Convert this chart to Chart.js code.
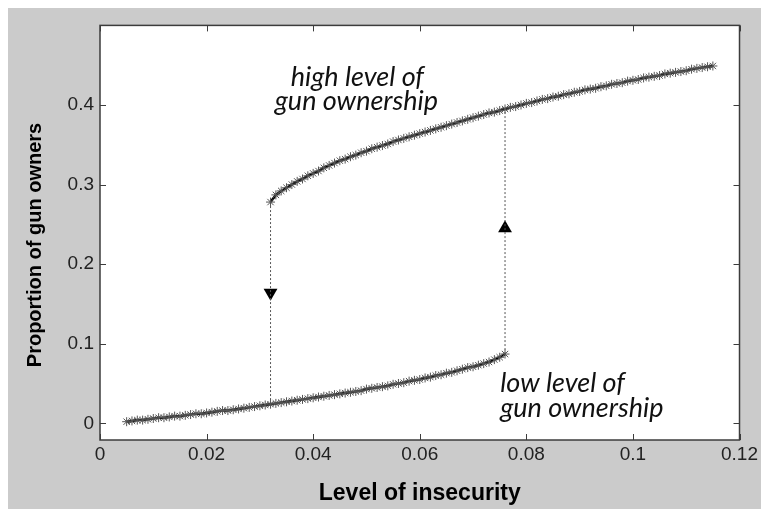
<!DOCTYPE html>
<html>
<head>
<meta charset="utf-8">
<script src="https://cdn.jsdelivr.net/npm/chart.js@4.4.1/dist/chart.umd.min.js"></script>
<style>
  html, body { margin: 0; padding: 0; background: #fff; }
  #wrap { position: absolute; left: 8px; top: 8px; width: 753px; height: 501px; background: #cbcbcb; }
</style>
</head>
<body>
<div id="wrap"><canvas id="chart" width="753" height="501"></canvas></div>
<script>
// lower branch (low level of gun ownership)
const lowX = [0.005,0.006,0.007,0.008,0.009,0.010,0.011,0.012,0.013,0.014,0.015,0.016,0.017,0.018,0.019,0.020,
  0.021,0.022,0.023,0.024,0.025,0.026,0.027,0.028,0.029,0.030,0.031,0.032,0.033,0.034,0.035,0.036,0.037,0.038,
  0.039,0.040,0.041,0.042,0.043,0.044,0.045,0.046,0.047,0.048,0.049,0.050,0.051,0.052,0.053,0.054,0.055,0.056,
  0.057,0.058,0.059,0.060,0.061,0.062,0.063,0.064,0.065,0.066,0.067,0.068,0.069,0.070,0.071,0.072,0.073,0.074,
  0.075,0.076];
const lowY = [0.002,0.003,0.004,0.004,0.005,0.006,0.007,0.007,0.008,0.009,0.009,0.010,0.011,0.012,0.012,0.013,
  0.014,0.015,0.016,0.016,0.017,0.018,0.019,0.020,0.021,0.022,0.023,0.024,0.025,0.026,0.027,0.028,0.029,0.030,
  0.031,0.032,0.033,0.034,0.035,0.036,0.037,0.038,0.039,0.040,0.041,0.043,0.044,0.045,0.046,0.047,0.049,0.050,
  0.051,0.053,0.054,0.055,0.057,0.058,0.060,0.061,0.063,0.064,0.066,0.068,0.070,0.071,0.073,0.075,0.077,0.080,
  0.083,0.087];

// upper branch (high level of gun ownership)
const highX = [0.032,0.033,0.034,0.035,0.036,0.037,0.038,0.039,0.040,0.041,0.042,0.043,0.044,0.045,0.046,0.047,
  0.048,0.049,0.050,0.051,0.052,0.053,0.054,0.055,0.056,0.057,0.058,0.059,0.060,0.061,0.062,0.063,0.064,0.065,
  0.066,0.067,0.068,0.069,0.070,0.071,0.072,0.073,0.074,0.075,0.076,0.077,0.078,0.079,0.080,0.081,0.082,0.083,
  0.084,0.085,0.086,0.087,0.088,0.089,0.090,0.091,0.092,0.093,0.094,0.095,0.096,0.097,0.098,0.099,0.100,0.101,
  0.102,0.103,0.104,0.105,0.106,0.107,0.108,0.109,0.110,0.111,0.112,0.113,0.114,0.115];
const highY = [0.278,0.287,0.292,0.296,0.300,0.304,0.307,0.311,0.314,0.317,0.321,0.324,0.327,0.330,0.332,0.335,
  0.337,0.340,0.342,0.345,0.347,0.349,0.351,0.354,0.356,0.358,0.360,0.362,0.364,0.366,0.368,0.370,0.372,0.374,
  0.376,0.378,0.380,0.382,0.384,0.386,0.388,0.390,0.391,0.393,0.395,0.397,0.398,0.400,0.402,0.403,0.405,0.407,
  0.408,0.410,0.411,0.413,0.414,0.416,0.417,0.419,0.420,0.421,0.423,0.424,0.426,0.427,0.428,0.430,0.431,0.432,
  0.434,0.435,0.436,0.437,0.439,0.440,0.441,0.442,0.443,0.445,0.446,0.447,0.448,0.449];

// jumps between branches
const jumpDownX = [0.032, 0.032];
const jumpDownY = [0.278, 0.024];
const jumpUpX = [0.076, 0.076];
const jumpUpY = [0.087, 0.395];
const arrowX = [0.032, 0.076];
const arrowY = [0.164, 0.245];
const arrowRot = [180, 0];

const xTicks = [0, 0.02, 0.04, 0.06, 0.08, 0.1, 0.12];
const xTickLabels = ['0', '0.02', '0.04', '0.06', '0.08', '0.1', '0.12'];
const yTicks = [0, 0.1, 0.2, 0.3, 0.4];
const yTickLabels = ['0', '0.1', '0.2', '0.3', '0.4'];

const notes = [
  { lines: ['high level of', 'gun ownership'], x: [0.0358, 0.0328], y: [0.424, 0.394] },
  { lines: ['low level of', 'gun ownership'], x: [0.0751, 0.0751], y: [0.039, 0.008] }
];

const pts = (xs, ys) => xs.map((x, i) => ({ x, y: ys[i] }));
const tickFont = { family: 'Arial, "Liberation Sans", sans-serif', size: 19 };

// white plot area
const plotBg = {
  id: 'plotBg',
  beforeDatasetsDraw(chart) {
    const { ctx, chartArea: a } = chart;
    ctx.save();
    ctx.fillStyle = '#fff';
    ctx.fillRect(a.left, a.top, a.right - a.left, a.bottom - a.top);
    ctx.restore();
  }
};

// box, inward ticks, axis titles, italic notes
const decor = {
  id: 'decor',
  afterDatasetsDraw(chart) {
    const { ctx, chartArea: a, scales: { x, y } } = chart;
    ctx.save();
    ctx.strokeStyle = '#3c3c3c';
    ctx.lineWidth = 1.5;
    ctx.strokeRect(a.left, a.top, a.right - a.left, a.bottom - a.top);
    ctx.lineWidth = 1;
    ctx.beginPath();
    xTicks.forEach(v => {
      const p = Math.round(x.getPixelForValue(v)) + 0.5;
      ctx.moveTo(p, a.bottom); ctx.lineTo(p, a.bottom - 6);
      ctx.moveTo(p, a.top); ctx.lineTo(p, a.top + 6);
    });
    yTicks.forEach(v => {
      const p = Math.round(y.getPixelForValue(v)) + 0.5;
      ctx.moveTo(a.left, p); ctx.lineTo(a.left + 6, p);
      ctx.moveTo(a.right, p); ctx.lineTo(a.right - 6, p);
    });
    ctx.stroke();

    ctx.fillStyle = '#111';
    ctx.font = 'italic 27px Lato, "Open Sans", sans-serif';
    ctx.textAlign = 'left';
    ctx.textBaseline = 'alphabetic';
    notes.forEach(n => n.lines.forEach((t, i) => {
      ctx.fillText(t, x.getPixelForValue(n.x[i]), y.getPixelForValue(n.y[i]));
    }));

    ctx.fillStyle = '#000';
    ctx.font = 'bold 23px Arial, "Liberation Sans", sans-serif';
    ctx.textAlign = 'center';
    ctx.textBaseline = 'middle';
    ctx.fillText('Level of insecurity', (a.left + a.right) / 2, 486);
    ctx.font = 'bold 20px Arial, "Liberation Sans", sans-serif';
    ctx.translate(27, 237);
    ctx.rotate(-Math.PI / 2);
    ctx.fillText('Proportion of gun owners', 0, 0);
    ctx.restore();
  }
};

new Chart(document.getElementById('chart'), {
  type: 'scatter',
  data: {
    datasets: [
      {
        data: pts(lowX, lowY), showLine: true, borderColor: '#000', borderWidth: 2.5,
        pointStyle: 'star', pointRadius: 4.5, pointBorderColor: '#555', pointBorderWidth: 1,
        pointBackgroundColor: '#555'
      },
      {
        data: pts(highX, highY), showLine: true, borderColor: '#000', borderWidth: 2.5,
        pointStyle: 'star', pointRadius: 4.5, pointBorderColor: '#555', pointBorderWidth: 1,
        pointBackgroundColor: '#555'
      },
      {
        data: pts(jumpDownX, jumpDownY), showLine: true, borderColor: '#555', borderWidth: 1,
        borderDash: [2, 2], pointRadius: 0
      },
      {
        data: pts(jumpUpX, jumpUpY), showLine: true, borderColor: '#555', borderWidth: 1,
        borderDash: [2, 2], pointRadius: 0
      },
      {
        data: pts(arrowX, arrowY), showLine: false, pointStyle: 'triangle', pointRadius: 8,
        rotation: arrowRot, pointBackgroundColor: '#000', pointBorderColor: '#000', pointBorderWidth: 0
      }
    ]
  },
  options: {
    responsive: false,
    animation: false,
    devicePixelRatio: 1,
    layout: { padding: { left: 0, top: 15, right: 20, bottom: 0 } },
    plugins: { legend: { display: false }, tooltip: { enabled: false } },
    scales: {
      x: {
        type: 'linear', min: 0, max: 0.12,
        grid: { display: false, drawTicks: false }, border: { display: false },
        afterBuildTicks: s => { s.ticks = xTicks.map(v => ({ value: v })); },
        afterFit: s => { s.height = 69; },
        ticks: {
          font: tickFont, color: '#222', padding: 3, maxRotation: 0,
          callback: v => xTickLabels[xTicks.indexOf(v)]
        }
      },
      y: {
        type: 'linear', min: -0.021, max: 0.5,
        grid: { display: false, drawTicks: false }, border: { display: false },
        afterBuildTicks: s => { s.ticks = yTicks.map(v => ({ value: v })); },
        afterFit: s => { s.width = 92; },
        ticks: {
          font: tickFont, color: '#222', padding: 6,
          callback: v => yTickLabels[yTicks.indexOf(v)]
        }
      }
    }
  },
  plugins: [plotBg, decor]
});
</script>
</body>
</html>
